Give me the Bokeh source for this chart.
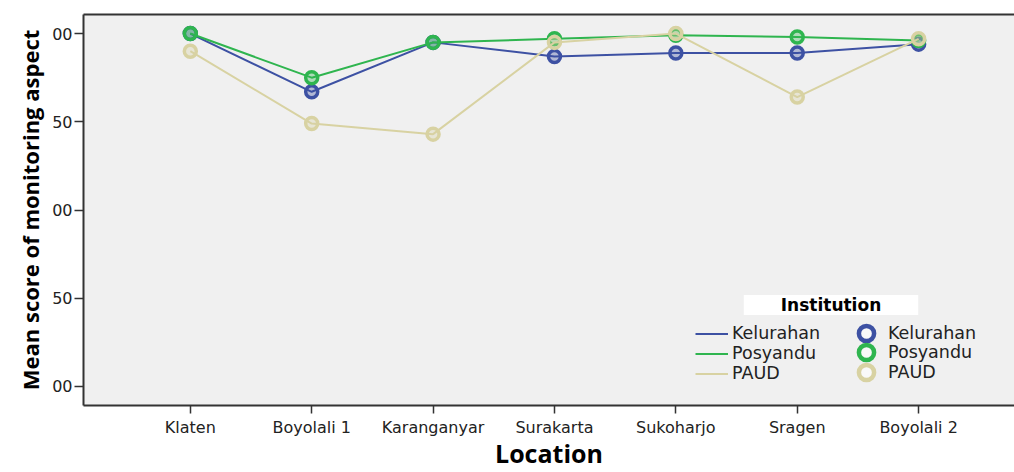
from bokeh.plotting import figure
from bokeh.models import (Range1d, FixedTicker, LinearAxis, Legend, LegendItem, Label)
from bokeh.embed import file_html
from bokeh.resources import INLINE

# Mean monitoring scores per location and institution
locations = ["Klaten", "Boyolali 1", "Karanganyar", "Surakarta", "Sukoharjo", "Sragen", "Boyolali 2"]
kelurahan = [3.00, 2.67, 2.95, 2.87, 2.89, 2.89, 2.94]
posyandu = [3.00, 2.75, 2.95, 2.97, 2.99, 2.98, 2.96]
paud = [2.90, 2.49, 2.43, 2.95, 3.00, 2.64, 2.97]

y_ticks = [1.0, 1.5, 2.0, 2.5, 3.0]
y_tick_labels = ["00", "50", "00", "50", "00"]

BLUE = "#3d51a3"
GREEN = "#2fb54f"
BEIGE = "#d8d2a2"
AXIS = "#333333"
TICK_FONT = "DejaVu Sans"

x = list(range(len(locations)))

p = figure(width=1014, height=472, output_backend="svg", toolbar_location=None,
           x_range=Range1d(-0.88, 6.79), y_range=Range1d(0.892, 3.108),
           min_border_left=83, min_border_right=0, min_border_top=14, min_border_bottom=67)
p.background_fill_color = "#f0f0f0"
p.border_fill_color = "white"
p.outline_line_color = None
p.grid.visible = False

# y axis
ya = p.yaxis[0]
ya.ticker = FixedTicker(ticks=y_ticks)
ya.major_label_overrides = dict(zip(y_ticks, y_tick_labels))
ya.axis_label = "Mean score of monitoring aspect"
ya.axis_label_text_font = "Open Sans"
ya.axis_label_text_font_style = "bold"
ya.axis_label_text_font_size = "22px"
ya.axis_label_text_color = "black"
ya.axis_label_standoff = 4
ya.major_label_text_font = TICK_FONT
ya.major_label_text_font_size = "16px"
ya.major_label_text_color = "#222222"
ya.major_label_standoff = 2
ya.major_tick_out = 9

# x axis
xa = p.xaxis[0]
xa.ticker = FixedTicker(ticks=x)
xa.major_label_overrides = dict(zip(x, locations))
xa.axis_label = "Location"
xa.axis_label_text_font = "Open Sans"
xa.axis_label_text_font_style = "bold"
xa.axis_label_text_font_size = "25px"
xa.axis_label_text_color = "black"
xa.axis_label_standoff = -4
xa.major_label_text_font = TICK_FONT
xa.major_label_text_font_size = "16px"
xa.major_label_text_color = "#222222"
xa.major_label_standoff = 4
xa.major_tick_out = 8

for ax in (xa, ya):
    ax.axis_line_color = AXIS
    ax.axis_line_width = 2
    ax.major_tick_line_color = AXIS
    ax.major_tick_line_width = 1.5
    ax.major_tick_in = 0
    ax.minor_tick_line_color = None

# top border line of the plot frame
top = LinearAxis(major_tick_line_color=None, minor_tick_line_color=None,
                 major_label_text_font_size="0px", axis_line_color=AXIS,
                 axis_line_width=2)
p.add_layout(top, "above")

series = [("Kelurahan", kelurahan, BLUE), ("Posyandu", posyandu, GREEN), ("PAUD", paud, BEIGE)]
line_items = []
key_renderers = []
for name, vals, col in series:
    ln = p.line(x, vals, line_color=col, line_width=2)
    p.scatter(x, vals, marker="circle", size=12, line_color=col, line_width=3.5,
              fill_color=col, fill_alpha=0.35)
    # hollow ring shown only as the legend key
    key = p.scatter(x, vals, marker="circle", line_color=col, line_width=4.5,
                    fill_color="white", fill_alpha=0.6, visible=False)
    line_items.append(LegendItem(label=name, renderers=[ln]))
    key_renderers.append((name, key))

common = dict(background_fill_alpha=0, border_line_color=None, padding=0, margin=0,
              label_text_font=TICK_FONT, label_text_font_size="17.5px",
              label_text_color="#222222", inactive_fill_alpha=0)
leg_lines = Legend(items=line_items, location=(612, 22), glyph_width=33, glyph_height=19,
                   label_height=19, spacing=-1, label_standoff=4, **common)
p.add_layout(leg_lines)

# one legend per marker row so the ring keys can be large
for (name, key), y_off in zip(key_renderers, [53, 34, 14]):
    leg = Legend(items=[LegendItem(label=name, renderers=[key])], location=(764, y_off),
                 glyph_width=38, glyph_height=38, label_height=19, spacing=0,
                 label_standoff=3, **common)
    p.add_layout(leg)

title = Label(x=747.5, y=100.5, x_units="screen", y_units="screen", text="Institution",
              text_font="DejaVu Sans", text_font_style="bold", text_font_size="17px",
              text_align="center", text_baseline="middle", text_color="black",
              background_fill_color="white", padding=(37, 0))
p.add_layout(title)

open("out.html", "w").write(file_html(p, INLINE))
